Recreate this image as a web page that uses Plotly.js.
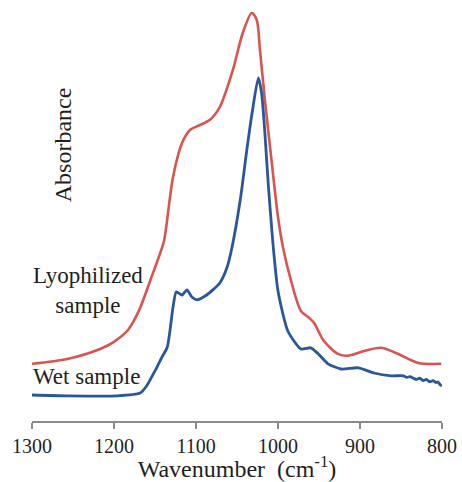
<!DOCTYPE html>
<html>
<head>
<meta charset="utf-8">
<script src="https://cdn.plot.ly/plotly-3.0.1.min.js"></script>
<style>html,body{margin:0;padding:0;background:#fff;}#chart{width:462px;height:482px;}</style>
</head>
<body>
<div id="chart"></div>
<script>
// Lyophilized sample (red)
const wavenumberLyo = [1300, 1257, 1217, 1200, 1184, 1176, 1168, 1156, 1144, 1139, 1128, 1117, 1107, 1095, 1083, 1071, 1055, 1043, 1032, 1026, 1022, 1016, 1007, 1000, 994, 984, 972, 962, 956, 944, 927, 915, 895, 874, 854, 829, 801];
const absorbanceLyo = [0.143, 0.155, 0.180, 0.198, 0.225, 0.250, 0.283, 0.350, 0.418, 0.450, 0.610, 0.695, 0.728, 0.740, 0.753, 0.785, 0.878, 0.970, 1.020, 1.003, 0.928, 0.803, 0.635, 0.510, 0.435, 0.350, 0.275, 0.258, 0.245, 0.200, 0.168, 0.163, 0.175, 0.183, 0.168, 0.145, 0.143];

// Wet sample (blue)
const wavenumberWet = [1300, 1257, 1196, 1168, 1160, 1152, 1148, 1142, 1135, 1128, 1124, 1117, 1111, 1105, 1099, 1087, 1071, 1062, 1056, 1046, 1038, 1031, 1024, 1020, 1016, 1012, 1006, 1000, 988, 972, 960, 951, 939, 923, 902, 883, 862, 847, 843, 839, 835, 831, 827, 823, 819, 815, 811, 807, 805, 802, 800];
const absorbanceWet = [0.065, 0.063, 0.063, 0.070, 0.088, 0.118, 0.133, 0.158, 0.185, 0.285, 0.323, 0.315, 0.328, 0.310, 0.303, 0.315, 0.345, 0.385, 0.435, 0.553, 0.678, 0.778, 0.858, 0.820, 0.720, 0.595, 0.440, 0.325, 0.225, 0.180, 0.183, 0.168, 0.143, 0.130, 0.133, 0.120, 0.113, 0.113, 0.109, 0.111, 0.107, 0.104, 0.107, 0.101, 0.104, 0.098, 0.101, 0.096, 0.098, 0.090, 0.088];

const xTicks = [1300, 1200, 1100, 1000, 900, 800];

const serif = "Liberation Serif, Times New Roman, serif";
const textColor = "#1f1f1f";

const traces = [
  {
    x: wavenumberLyo, y: absorbanceLyo, type: "scatter", mode: "lines",
    line: {color: "#d9534f", width: 2.6, shape: "spline", smoothing: 0.8},
    name: "Lyophilized sample", showlegend: false, hoverinfo: "skip"
  },
  {
    x: wavenumberWet, y: absorbanceWet, type: "scatter", mode: "lines",
    line: {color: "#2b5699", width: 2.8, shape: "spline", smoothing: 0.6},
    name: "Wet sample", showlegend: false, hoverinfo: "skip"
  }
];

const layout = {
  width: 462, height: 482,
  margin: {l: 32, r: 20, t: 1, b: 61},
  paper_bgcolor: "#ffffff", plot_bgcolor: "#ffffff",
  font: {family: serif, color: textColor},
  xaxis: {
    range: [1300, 800], tickvals: xTicks, ticktext: xTicks.map(String),
    showgrid: false, zeroline: false, showline: true, linecolor: "#8c8c8c", linewidth: 1.5,
    ticks: "outside", ticklen: 6, tickwidth: 1.5, tickcolor: "#8c8c8c",
    tickfont: {family: serif, size: 20, color: textColor},
    title: {text: "Wavenumber  (cm<sup>-1</sup>)", font: {family: serif, size: 24, color: textColor}, standoff: 1}
  },
  yaxis: {
    range: [0, 1.05], showgrid: false, zeroline: false, showline: false,
    showticklabels: false, ticks: ""
  },
  annotations: [
    {text: "Absorbance", xref: "paper", yref: "paper", x: 0.076, y: 0.657, textangle: -90,
     xanchor: "center", yanchor: "middle",
     showarrow: false, font: {family: serif, size: 24, color: textColor}},
    {text: "Lyophilized<br>sample", xref: "paper", yref: "paper", x: 0.137, y: 0.31,
     xanchor: "center", yanchor: "middle",
     showarrow: false, align: "center", font: {family: serif, size: 23, color: textColor}},
    {text: "Wet sample", xref: "paper", yref: "paper", x: 0.134, y: 0.107,
     xanchor: "center", yanchor: "middle",
     showarrow: false, font: {family: serif, size: 23, color: textColor}}
  ]
};

Plotly.newPlot("chart", traces, layout, {staticPlot: true, displayModeBar: false});
</script>
</body>
</html>
